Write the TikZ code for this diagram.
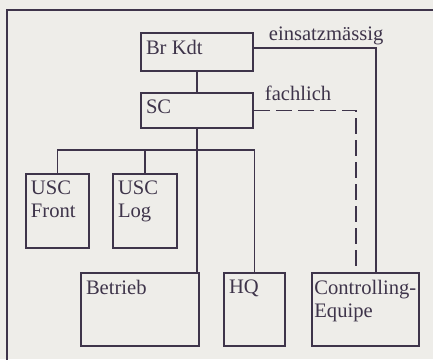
\documentclass[tikz,border=0pt]{standalone}
\usepackage{fontspec}
\setmainfont{Liberation Serif}
\usetikzlibrary{positioning}
\definecolor{ink}{RGB}{62,52,74}
\definecolor{paper}{RGB}{238,237,233}

\begin{document}
\begin{tikzpicture}[x=0.5pt,y=-0.5pt,line width=0.9pt,draw=ink,text=ink,
  box/.style={draw,rectangle,inner sep=0pt},
  boxtext/.style={anchor=north west,inner xsep=2.5pt,inner ysep=3.5pt,align=left,
    font=\fontsize{10.3}{11.5}\selectfont},
  reltext/.style={anchor=base west,inner sep=0pt,font=\fontsize{10.3}{11.5}\selectfont},
  fachlinie/.style={dash pattern=on 8pt off 3pt}]

 \fill[paper] (0,0) rectangle (433,359);
 \useasboundingbox (0,0) rectangle (433,359);
 \draw (7,10) rectangle (450,380);

 \node[box,minimum width=56pt,minimum height=19pt,
   label={[boxtext,name=bk-t]north west:Br Kdt}] (bk) at (197,52) {};
 \node[box,minimum width=56pt,minimum height=17.5pt,below of=bk,node distance=29.25pt,
   label={[boxtext,name=sc-t]north west:SC}] (sc) {};
 \node[box,minimum width=31.5pt,minimum height=37pt,
   label={[boxtext,name=usf-t]north west:USC\\Front}] (usf) at (57.5,211) {};
 \node[box,minimum width=32pt,minimum height=37pt,right of=usf,node distance=43.75pt,
   label={[boxtext,name=usl-t]north west:USC\\Log}] (usl) {};
 \node[box,minimum width=59pt,minimum height=36.5pt,
   label={[boxtext,name=bt-t]north west:Betrieb}] (bt) at (140,309.5) {};
 \node[box,minimum width=30.5pt,minimum height=36.5pt,right of=bt,node distance=57.25pt,
   label={[boxtext,name=hq-t]north west:HQ}] (hq) {};
 \node[box,minimum width=53.5pt,minimum height=36.5pt,right of=hq,node distance=55.5pt,
   label={[boxtext,inner xsep=1.2pt,name=ce-t]north west:Controlling-\\Equipe}] (ce) {};

 \node[reltext] (einsatz) at (268,40) {einsatzmässig};
 \node[reltext] (fach) at (264,100) {fachlich};

 \coordinate (bus) at (197,150);
 \draw (bk.south) -- (sc.north);
 \draw (sc.south) -- (sc.south |- bt.north);
 \draw (usf.north) |- (bus) -| (hq.north);
 \draw (usl.north) -- (usl.north |- bus);
 \draw ([yshift=2pt]bk.east) -| ([xshift=5.25pt]ce.north);
 \draw[fachlinie] (sc.east) -| ([xshift=-4.75pt]ce.north);

\end{tikzpicture}
\end{document}
